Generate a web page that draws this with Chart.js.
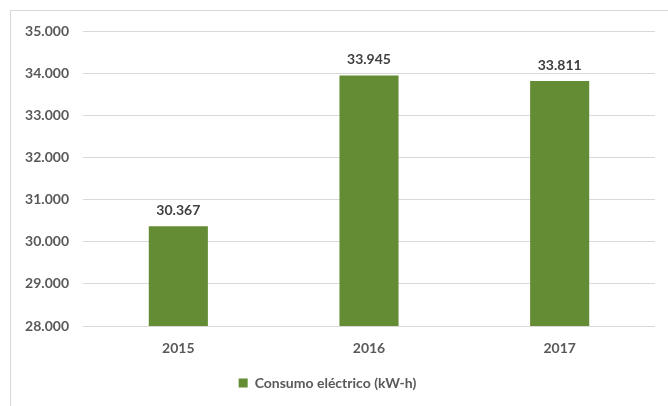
<!DOCTYPE html>
<html>
<head>
<meta charset="utf-8">
<script src="https://cdn.jsdelivr.net/npm/chart.js@4/dist/chart.umd.min.js"></script>
<style>
html,body{margin:0;padding:0;background:#fff;overflow:hidden;}
#frame{position:absolute;left:10px;top:10px;width:700px;height:450px;border-left:1px solid #d9d9d9;border-top:1px solid #d9d9d9;}
#wrap{position:absolute;left:0;top:0;width:668px;height:406px;}
</style>
</head>
<body>
<div id="frame"></div>
<div id="wrap"><canvas id="c" width="668" height="406"></canvas></div>
<script>
const categories = ["2015", "2016", "2017"];
const seriesName = "Consumo eléctrico (kW-h)";
const values = [30367, 33945, 33811];
const yMin = 28000, yMax = 35000, yStep = 1000;

function fmt(v){
  return Math.round(v).toString().replace(/\B(?=(\d{3})+(?!\d))/g, ".");
}

const FONT = "Lato, 'Open Sans', sans-serif";

const labelPlugin = {
  id: 'valueLabels',
  afterDatasetsDraw(chart){
    const ctx = chart.ctx;
    const meta = chart.getDatasetMeta(0);
    ctx.save();
    ctx.font = "bold 14px " + FONT;
    ctx.fillStyle = "#404040";
    ctx.textAlign = "center";
    ctx.textBaseline = "alphabetic";
    meta.data.forEach((bar, i) => {
      ctx.fillText(fmt(chart.data.datasets[0].data[i]), bar.x, bar.y - 11);
    });
    ctx.restore();
  }
};

new Chart(document.getElementById('c'), {
  type: 'bar',
  data: {
    labels: categories,
    datasets: [{
      label: seriesName,
      data: values,
      backgroundColor: "#648c34",
      borderWidth: 0,
      barPercentage: 0.31,
      categoryPercentage: 1.0
    }]
  },
  options: {
    responsive: false,
    animation: false,
    devicePixelRatio: 1,
    layout: { padding: { top: 31, right: 13, left: 0, bottom: 6 } },
    plugins: {
      legend: {
        position: 'bottom',
        labels: {
          boxWidth: 9, boxHeight: 9,
          padding: 10,
          color: "#595959",
          font: { family: FONT, size: 14, weight: 'bold' }
        }
      },
      tooltip: { enabled: false }
    },
    scales: {
      x: {
        grid: { display: false, drawTicks: false },
        border: { display: false },
        ticks: {
          color: "#595959",
          padding: 14,
          font: { family: FONT, size: 14, weight: 'bold' }
        },
        afterFit(axis){ axis.height = 40; }
      },
      y: {
        min: yMin, max: yMax,
        grid: { color: "#d9d9d9", lineWidth: 1, drawTicks: false },
        border: { display: false },
        ticks: {
          stepSize: yStep,
          color: "#595959",
          padding: 14,
          font: { family: FONT, size: 14, weight: 'bold' },
          callback: (v) => fmt(v)
        },
        afterFit(axis){ axis.width = 83; }
      }
    }
  },
  plugins: [labelPlugin]
});
</script>
</body>
</html>
